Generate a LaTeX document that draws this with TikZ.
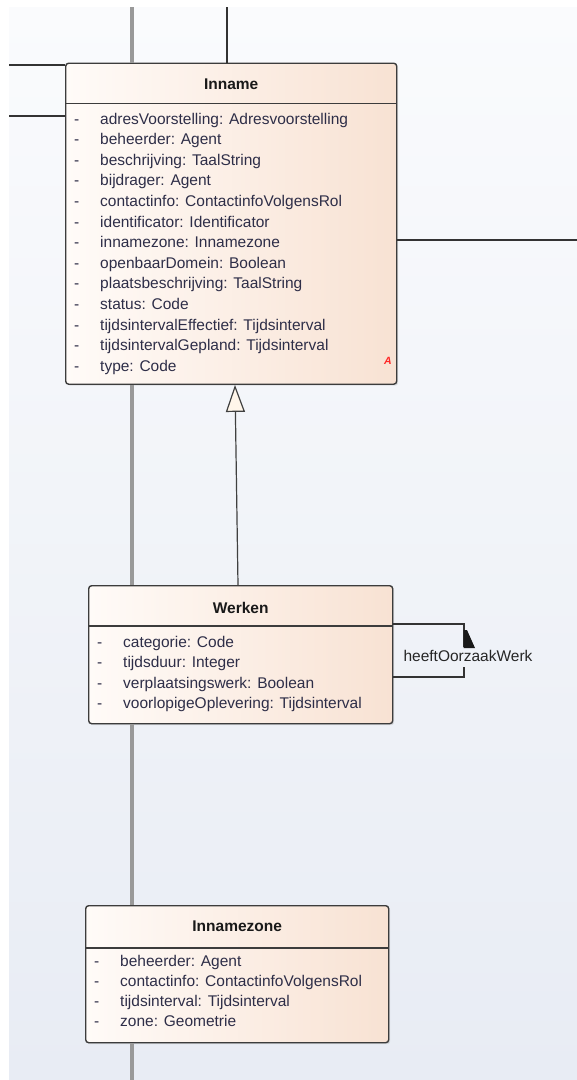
\documentclass[tikz,border=0pt]{standalone}
\usepackage{fontspec}
\setmainfont{Liberation Sans}
\usepackage{xcolor}
\usepackage{tikz}
\usetikzlibrary{arrows.meta,shadows,calc,positioning}
\definecolor{bgtop}{HTML}{FAFBFD}
\definecolor{bgbot}{HTML}{E8ECF4}
\definecolor{boxleft}{HTML}{FFFBF8}
\definecolor{boxright}{HTML}{F8E2D3}
\definecolor{boxline}{HTML}{3C3C3C}
\definecolor{attrtext}{HTML}{2E2E48}
\definecolor{grayline}{HTML}{999999}
\definecolor{tipfill}{HTML}{FFF6EA}
\tikzstyle{classbox} = [draw=boxline,line width=1.4pt,rounded corners=3pt,left color=boxleft,right color=boxright,drop shadow={opacity=0.2,shadow xshift=1.5pt,shadow yshift=-1.5pt},anchor=north west,inner sep=0pt]
\tikzstyle{title} = [font=\fontsize{15.5}{18}\selectfont\bfseries,text=black!90,inner sep=0pt]
\tikzstyle{attr} = [anchor=west,inner sep=0pt,font=\fontsize{15.5}{18}\selectfont,text=attrtext,text height=11pt,text depth=3pt]
\tikzstyle{link} = [line width=1.3pt,draw=black!80]
\tikzstyle{thru} = [line width=3.4pt,draw=grayline]

\begin{document}
\begin{tikzpicture}[x=1pt,y=-1pt]
		% Page and background:
		\useasboundingbox (0,0) rectangle (577,1080);
		\fill[white] (0,0) rectangle (577,1080);
		\shade[top color=bgtop,bottom color=bgbot] (9,7) rectangle (577,1080);

		% The three classes are nodes of fixed size, the texts are put in after
		\node[classbox,minimum width=331pt,minimum height=321pt] (inname) at (65,62.5) {};
		\node[classbox,minimum width=304pt,minimum height=138pt] (werken) at (88,585) {};
		\node[classbox,minimum width=303pt,minimum height=137pt] (zone) at (85,905) {};

		% Titles and separators:
		\node[title] (inname-title) at ($(inname.north)+(0,21.5)$) {Inname};
		\node[title] (werken-title) at ($(werken.north)+(0,23)$) {Werken};
		\node[title] (zone-title) at ($(zone.north)+(0,21)$) {Innamezone};
		\draw[draw=boxline,line width=1.2pt] (inname.west |- 0,103.5) -- (inname.east |- 0,103.5);
		\draw[draw=boxline,line width=1.2pt] (werken.west |- 0,626) -- (werken.east |- 0,626);
		\draw[draw=boxline,line width=1.2pt] (zone.west |- 0,948) -- (zone.east |- 0,948);

		% Attributes:
		\foreach \txt [count=\i from 0] in {adresVoorstelling: Adresvoorstelling,beheerder: Agent,beschrijving: TaalString,bijdrager: Agent,contactinfo: ContactinfoVolgensRol,identificator: Identificator,innamezone: Innamezone,openbaarDomein: Boolean,plaatsbeschrijving: TaalString,status: Code,tijdsintervalEffectief: Tijdsinterval,tijdsintervalGepland: Tijdsinterval,type: Code}{%
			\node[attr] (inname-d\i) at (74,{120+20.6*\i}) {-};
			\node[attr] (inname-a\i) at (100,{120+20.6*\i}) {\txt};
		}
		\foreach \txt [count=\i from 0] in {categorie: Code,tijdsduur: Integer,verplaatsingswerk: Boolean,voorlopigeOplevering: Tijdsinterval}{%
			\node[attr] (werken-d\i) at (97,{643+20.6*\i}) {-};
			\node[attr] (werken-a\i) at (123,{643+20.6*\i}) {\txt};
		}
		\foreach \txt [count=\i from 0] in {beheerder: Agent,contactinfo: ContactinfoVolgensRol,tijdsinterval: Tijdsinterval,zone: Geometrie}{%
			\node[attr] (zone-d\i) at (94,{962+20.3*\i}) {-};
			\node[attr] (zone-a\i) at (120,{962+20.3*\i}) {\txt};
		}
		\node[text=red!85,font=\fontsize{10.5}{11}\selectfont\bfseries\itshape] (abstract) at (388,361) {A};

		% Connectors:
		\coordinate (gtop) at (132,7);
		\coordinate (gbot) at (132,1080);
		\draw[thru] (gtop) -- (gtop |- inname.north);
		\draw[thru] (gtop |- inname.south) -- (gtop |- werken.north);
		\draw[thru] (gtop |- werken.south) -- (gtop |- zone.north);
		\draw[thru] (gtop |- zone.south) -- (gbot);

		\coordinate (ktop) at (227,7);
		\coordinate (lefta) at (9,65);
		\coordinate (leftb) at (9,116);
		\coordinate (rightend) at (577,240);
		\draw[link] (ktop) -- (ktop |- inname.north);
		\draw[link] (lefta) -- (lefta -| inname.west);
		\draw[link] (leftb) -- (leftb -| inname.west);
		\draw[link] (rightend -| inname.east) -- (rightend);

		% Generalization Werken -> Inname:
		\draw[line width=1.2pt,draw=black!75,-{Triangle[length=27pt,width=19pt,fill=tipfill]}] ($(werken.north west)+(150,0)$) -- ($(inname.south west)+(170,0)$);

		% Self association heeftOorzaakWerk:
		\coordinate (turn) at (464,650);
		\draw[line width=1.2pt,draw=black!80] (werken.east |- 0,624) -- (turn |- 0,624) -- (turn |- 0,647);
		\draw[line width=1.2pt,draw=black!80] (werken.east |- 0,677) -- (turn |- 0,677) -- (turn |- 0,667);
		\fill[black!90] (463.5,630) -- (467,630) -- (475,648) -- (463.5,648) -- cycle;
		\node[font=\fontsize{15.5}{18}\selectfont,text=black!85,inner sep=0pt] (self-label) at (468,656) {heeftOorzaakWerk};
\end{tikzpicture}
\end{document}
